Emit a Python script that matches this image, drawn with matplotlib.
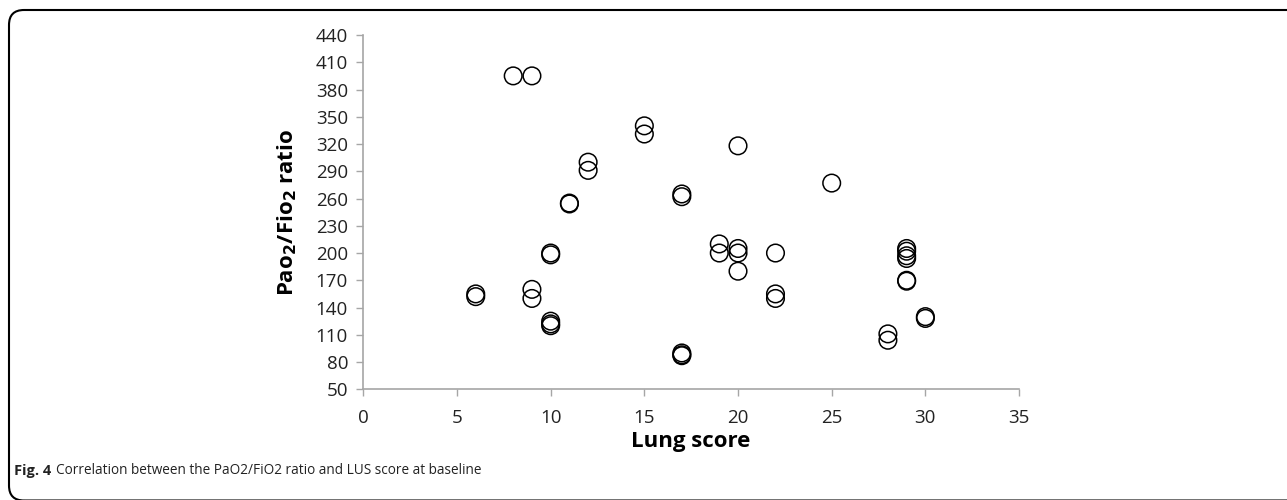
import matplotlib
matplotlib.use("Agg")
import matplotlib.pyplot as plt
from matplotlib.patches import FancyBboxPatch

# Lung score (x) vs PaO2/FiO2 ratio (y)
lung_score = [6, 6, 8, 9, 9, 9, 10, 10, 10, 10, 10, 11, 11, 12, 12, 15, 15,
              17, 17, 17, 17, 17, 19, 19, 20, 20, 20, 20, 22, 22, 22, 25,
              28, 28, 29, 29, 29, 29, 29, 29, 30, 30]
pf_ratio = [155, 152, 395, 395, 160, 150, 200, 198, 125, 122, 120, 255, 254,
            300, 291, 340, 331, 265, 262, 90, 88, 87, 210, 200, 318, 205,
            200, 180, 200, 155, 150, 277, 111, 104, 205, 202, 197, 194,
            170, 169, 130, 128]

xticks = [0, 5, 10, 15, 20, 25, 30, 35]
yticks = [50, 80, 110, 140, 170, 200, 230, 260, 290, 320, 350, 380, 410, 440]

plt.rcParams['font.family'] = ['Open Sans', 'DejaVu Sans']

fig = plt.figure(figsize=(12.87, 5.0), dpi=100)
ax = fig.add_axes([0.2823, 0.2214, 0.5095, 0.7086])

ax.scatter(lung_score, pf_ratio, s=160, facecolors='none',
           edgecolors='black', linewidths=1.1)

ax.set_xlim(0, 35)
ax.set_ylim(50, 440)
ax.set_xticks(xticks)
ax.set_yticks(yticks)
ax.tick_params(labelsize=13.5, labelcolor='#222222', color='#a6a6a6',
               length=5, width=1)
ax.tick_params(axis='y', pad=6)
ax.tick_params(axis='x', pad=9)
for side in ['top', 'right']:
    ax.spines[side].set_visible(False)
for side in ['left', 'bottom']:
    ax.spines[side].set_color('#a6a6a6')
    ax.spines[side].set_linewidth(1.2)

ax.set_xlabel('Lung score', fontsize=16, fontweight='bold', labelpad=3)
ax.set_ylabel(r'Pao$_\mathbf{2}$/Fio$_\mathbf{2}$ ratio', fontsize=16,
              fontweight='bold', labelpad=12)

# rounded frame around the figure (in inches, 100 px each)
frame = FancyBboxPatch((0.09, -0.005), 13.0, 4.905,
                       boxstyle='round,pad=0,rounding_size=0.15',
                       transform=fig.dpi_scale_trans, fill=False,
                       edgecolor='black', linewidth=1.5, clip_on=False)
fig.patches.append(frame)

fig.text(14 / 1287, 1 - 471 / 500, 'Fig. 4', fontsize=10.5, fontweight='bold',
         va='center', color='#222222')
fig.text(56 / 1287, 1 - 471 / 500,
         'Correlation between the PaO2/FiO2 ratio and LUS score at baseline',
         fontsize=9.8, va='center', color='#222222')

fig.savefig('out.png', dpi=100)
